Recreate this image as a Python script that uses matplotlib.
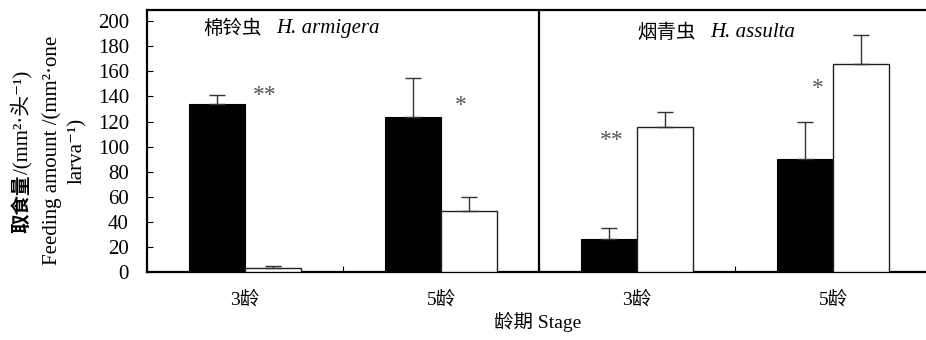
#!/usr/bin/env python

# Feeding amount of H. armigera and H. assulta larvae at two stages

import matplotlib
from matplotlib.backends.backend_agg import \
                 FigureCanvasAgg as FigureCanvas
from matplotlib.figure import Figure
from matplotlib.transforms import offset_copy
import numpy

# Data
stages=['3龄','5龄','3龄','5龄']
species_cn=['棉铃虫','烟青虫']
species_latin=['H. armigera','H. assulta']
black_values=[134,124,26,90]
black_errors=[7,31,9,30]
white_values=[3.4,49,116,166]
white_errors=[1.1,11,12,23]
signif_marks=['**','*','**','*']
signif_x=[0.10,1.10,1.87,2.92]
signif_y=[144,136,108,150]

serif=['Liberation Serif','Noto Sans CJK SC','DejaVu Serif']
matplotlib.rcParams['font.family']=serif

fig=Figure(figsize=(9.26,3.40),dpi=100,facecolor='white')
canvas=FigureCanvas(fig)

# Axes run past the right edge of the picture, as in the original
ax=fig.add_axes([147/926,68/340,784/926,262/340])
ax.set_xlim(-0.5,3.5)
ax.set_ylim(0,209)

x=numpy.arange(len(stages))
w=0.286
err_kw={'ecolor':'#333333','elinewidth':1.0,'capsize':5.5,'capthick':1.0}
ax.bar(x-w/2,black_values,w,color='black',edgecolor='black',linewidth=0.8,
       yerr=[numpy.zeros(len(x)),black_errors],error_kw=err_kw,zorder=3)
ax.bar(x+w/2,white_values,w,color='white',edgecolor='#222222',linewidth=1.0,
       yerr=[numpy.zeros(len(x)),white_errors],error_kw=err_kw,zorder=3)

# Significance marks (asterisk ink sits high in the glyph box, so nudge down)
sig_trans=offset_copy(ax.transData,fig=fig,x=0,y=-3,units='points')
for sx,sy,m in zip(signif_x,signif_y,signif_marks):
    ax.text(sx,sy,m,ha='center',va='center',fontsize=17,color='#555555',
            family='Liberation Serif',transform=sig_trans)

# Divider between the two species
ax.axvline(1.5,color='black',linewidth=1.6,zorder=4)

# Panel titles
ax.text(-0.214,194,species_cn[0],ha='left',va='center',fontsize=14,
        family=['Noto Sans CJK SC'])
ax.text(0.158,194,species_latin[0],ha='left',va='center',fontsize=15,
        style='italic',family='Liberation Serif')
ax.text(2.0,191,species_cn[1],ha='left',va='center',fontsize=14,
        family=['Noto Sans CJK SC'])
ax.text(2.372,191,species_latin[1],ha='left',va='center',fontsize=15,
        style='italic',family='Liberation Serif')

# Spines and ticks
for s in ['left','top','bottom']:
    ax.spines[s].set_linewidth(1.6)
ax.spines['right'].set_visible(False)
ax.set_yticks(numpy.arange(0,201,20))
ax.tick_params(axis='y',direction='in',length=4.5,width=0.8,pad=13,
               labelsize=15)
ax.set_xticks(x)
ax.set_xticklabels(stages)
ax.tick_params(axis='x',which='major',length=0,pad=14,labelsize=14)
ax.set_xticks([0.5,2.5],minor=True)
ax.tick_params(axis='x',which='minor',direction='in',length=4.5,width=0.8)

# Axis titles
fig.text(538/926,1-322/340,'龄期 Stage',ha='center',va='center',fontsize=14)
fig.text(22/926,1-233/340,'取食量',rotation=90,ha='center',va='bottom',
         fontsize=14,fontweight='bold',family=['Noto Sans CJK SC'])
fig.text(22/926,1-174/340,'/(mm²·头⁻¹)',rotation=90,ha='center',va='bottom',
         fontsize=15)
fig.text(52/926,1-150/340,'Feeding amount /(mm²·one',rotation=90,
         ha='center',va='center',fontsize=15)
fig.text(77/926,1-151/340,'larva⁻¹)',rotation=90,ha='center',va='center',
         fontsize=15)

fig.savefig('out.png',dpi=100)
